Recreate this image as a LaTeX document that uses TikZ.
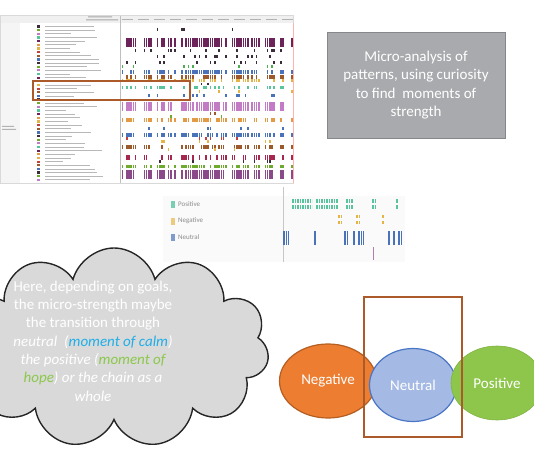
\documentclass[tikz,border=0pt]{standalone}
\usepackage{fontspec}
\setmainfont{Carlito}
\usepackage{tikz}
\usetikzlibrary{shapes.geometric, shapes.symbols, positioning}

\definecolor{boxgray}{HTML}{A8AAAD}
\definecolor{boxedge}{HTML}{85878A}
\definecolor{cloudgray}{HTML}{D9D9D9}
\definecolor{calm}{HTML}{1FAEE8}
\definecolor{hope}{HTML}{8CC84B}
\definecolor{negfill}{HTML}{ED7D31}
\definecolor{negedge}{HTML}{B45E22}
\definecolor{neufill}{HTML}{A4B9E3}
\definecolor{neuedge}{HTML}{4A76C6}
\definecolor{posfill}{HTML}{8DC64B}
\definecolor{hlbrown}{HTML}{AD5A2B}
% screenshot palette
\definecolor{sdark}{HTML}{3B2C3B}
\definecolor{splum}{HTML}{6B2359}
\definecolor{sgreen}{HTML}{4DAF50}
\definecolor{sblue}{HTML}{4A72B8}
\definecolor{sbrown}{HTML}{9C5A2C}
\definecolor{syell}{HTML}{E4B448}
\definecolor{steal}{HTML}{57C49C}
\definecolor{spink}{HTML}{C27BC4}
\definecolor{sorange}{HTML}{E39A45}
\definecolor{sred}{HTML}{C2403F}
\definecolor{scrim}{HTML}{A6284F}
\definecolor{slime}{HTML}{6EAA2E}
\definecolor{spurp}{HTML}{8A4A8A}

% y / colour / height / density of each coded row
\newcommand{\shotrows}{28/sdark/3/0.05, 38/splum/9/0.9, 49/sdark/3/0.35,
  55/sdark/3/0.3, 61/sdark/3/0.15, 65/sgreen/3/0.05, 70/sblue/4/0.8,
  75/sbrown/4/0.65, 79/syell/3/0.7, 83/sdark/2/0.04, 86/steal/3/0.6,
  90/syell/3/0.1, 94/sblue/3/0.3, 102/spink/9/0.85, 112/sbrown/3/0.05,
  115/slime/3/0.06, 118/sorange/4/0.8, 127/sblue/3/0.15, 133/sblue/4/0.8,
  137/sred/3/0.1, 140/syell/3/0.1, 145/sbrown/4/0.7, 148/syell/3/0.1,
  155/scrim/5/0.65, 160/sdark/3/0.1, 165/slime/3/0.85, 170/spurp/9/0.9}

\begin{document}
\begin{tikzpicture}[x=1pt, y=-1pt,
    note/.style={draw=boxedge, fill=boxgray, text=white, align=center,
                 minimum width=178pt, minimum height=106pt,
                 font=\fontsize{15}{18.5}\selectfont},
    blob/.style={ellipse, text=white, minimum height=74pt,
                 font=\fontsize{15}{18}\selectfont},
    legbox/.style={inner sep=0pt, minimum width=3.5pt, minimum height=7pt},
    legtxt/.style={right=3pt, inner sep=0pt, text=black!45,
                   font=\fontsize{7}{8}\selectfont},
    legbar/.style={line width=#1, dash pattern=on 1.6pt off 0.9pt},
  ]
    \useasboundingbox (0,0) rectangle (534,462);
    \clip (0,0) rectangle (534,462);

    % Screenshot of the coding timeline
    \pgfmathsetseed{4}
    \fill[white] (0,15) rectangle (293,183);
    \fill[black!6] (0,15) rectangle (293,23);
    \fill[black!4] (0,23) rectangle (20,183);
    \draw[black!25] (120,15) -- (120,183);
    \draw[black!15] (0,15) rectangle (293,183);
    \draw[red!30] (293,23) -- (293,183);
    \fill[black!35] (88,16.5) rectangle ++(24,1) (86,19.5) rectangle ++(32,1);
    \foreach \tx in {122,138,...,282}
      \fill[black!30] (\tx,19.5) rectangle ++(11,1);
    \fill[black!30] (2,126) rectangle ++(12,1) (2,129) rectangle ++(14,1);
    \foreach \i in {0,...,42}{
      \pgfmathsetmacro\ly{25.5+\i*3.65}
      \pgfmathsetmacro\ll{18+40*rnd}
      \pgfmathparse{{"sdark","steal","syell","sblue","spink","sorange","sbrown","slime","splum","sred"}[mod(\i*7,10)]}
      \fill[\pgfmathresult] (37,\ly) rectangle ++(3,2.2);
      \fill[black!28] (45,\ly+0.7) rectangle ++(\ll,0.9);
    }
    \foreach \cx in {121.5,123.7,...,291}{
      \pgfmathtruncatemacro\colon{rnd>0.2}
      \ifnum\colon=1
        \foreach \ry/\rc/\rh/\rd in \shotrows{
          \pgfmathtruncatemacro\on{rnd<\rd}
          \ifnum\on=1 \fill[\rc] (\cx,\ry) rectangle ++(1.7,\rh); \fi
        }
      \fi
    }
    \draw[hlbrown, line width=1.5pt] (33,81) rectangle (190,100);

    % Zoomed legend strip
    \fill[black!2] (163,196) rectangle (405,262);
    \draw[black!22] (283,187) -- (283,262);
    \node[legbox, fill=steal!80]  (lpos) at (173,204) {};
    \node[legbox, fill=syell!70]  (lneg) at (173,221) {};
    \node[legbox, fill=sblue!70]  (lneu) at (173,237) {};
    \node[legtxt] at (lpos.east) {Positive};
    \node[legtxt] at (lneg.east) {Negative};
    \node[legtxt] at (lneu.east) {Neutral};
    \foreach \a/\b in {292/312, 316/338, 346/353, 372/376, 396/398}{
      \draw[steal, legbar=3.5pt] (\a,201) -- (\b,201);
      \draw[steal, legbar=3.5pt] (\a,207) -- (\b,207);
    }
    \foreach \a/\b in {338/342, 356/359, 382/384}{
      \draw[syell, legbar=3pt] (\a,216) -- (\b,216);
      \draw[syell, legbar=3pt] (\a,222) -- (\b,222);
    }
    \foreach \a/\b in {283/289, 314/316, 344/348, 353/355, 358/364, 388/390, 393/395, 398/401}
      \draw[sblue, legbar=14pt] (\a,237.5) -- (\b,237.5);
    \draw[spurp!70, line width=1pt] (373,247) -- (373,260);

    % Note box
    \node[note] (micro) at (416,85)
      {Micro-analysis of\\patterns, using curiosity\\to find\ \ moments of\\strength};

    % Thought cloud
    \node[cloud, cloud puffs=11, cloud ignores aspect, draw=black!85,
          line width=1.4pt, fill=cloudgray, minimum width=310pt,
          minimum height=200pt] (thought) at (114,348) {};
    \node[text=white, align=center, font=\fontsize{15}{18.3}\selectfont]
      (goals) at (93,341)
      {Here, depending on goals,\\the micro-strength maybe\\the transition through\\
       \textit{neutral\ \ (\textcolor{calm}{moment of calm})}\\
       \textit{the positive (\textcolor{hope}{moment of}}\\
       \textit{\textcolor{hope}{hope}) or the chain as a}\\
       \textit{whole}};

    % Emotion chain
    \node[blob, fill=negfill, draw=negedge, line width=1.2pt,
          minimum width=97pt] (neg) at (328,381) {Negative};
    \node[blob, fill=neufill, draw=neuedge, line width=1.2pt,
          minimum width=87pt, minimum height=73pt] (neu) at (413,385) {Neutral};
    \node[blob, fill=posfill, draw=posfill!90!black, line width=0.6pt,
          minimum width=92pt] (pos) at (497,383) {Positive};
    \draw[hlbrown, line width=1.5pt] (364,297) rectangle (462,437);
  \end{tikzpicture}
\end{document}
